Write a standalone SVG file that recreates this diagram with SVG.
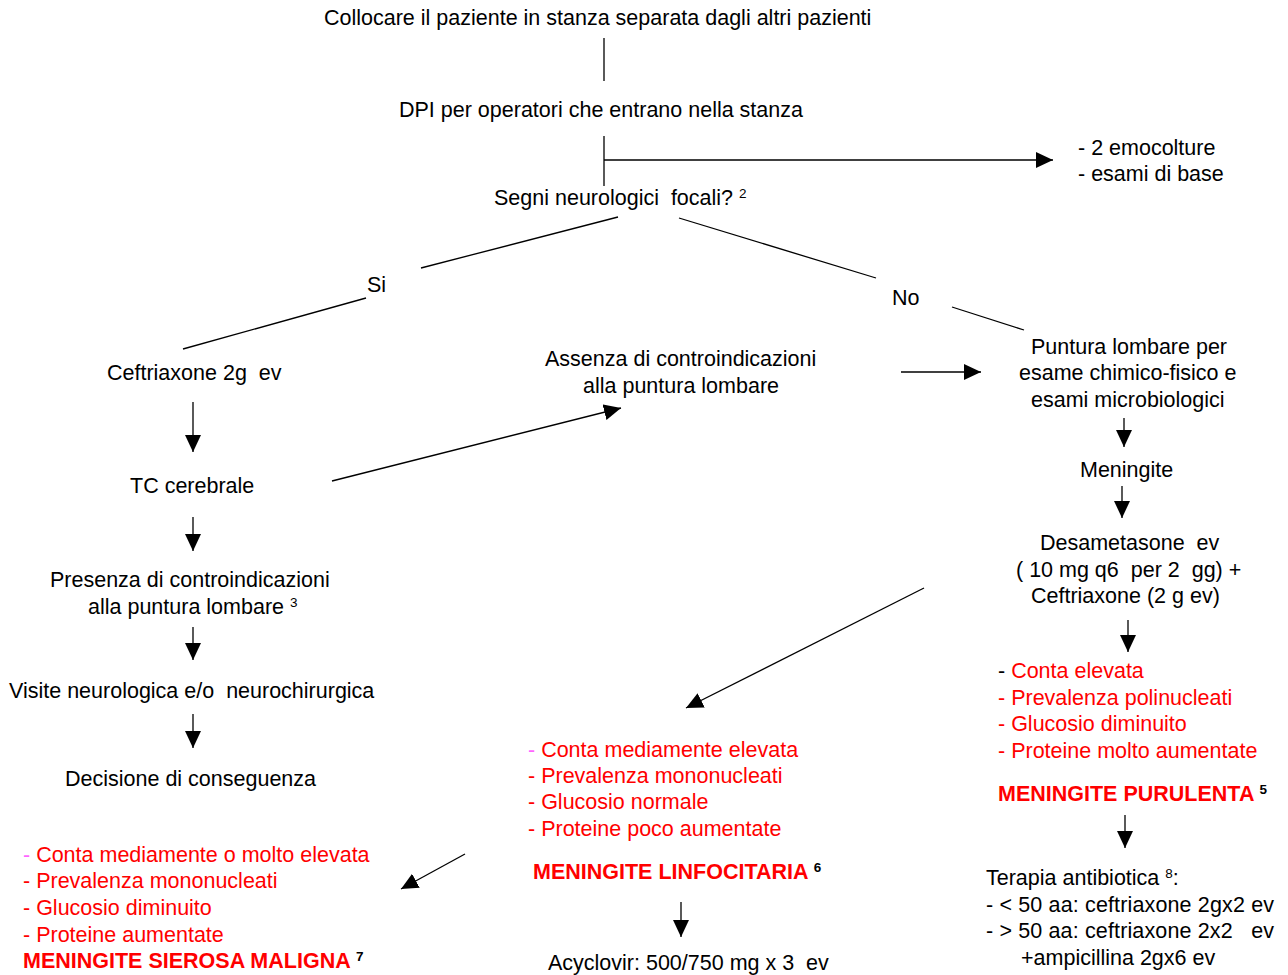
<svg xmlns="http://www.w3.org/2000/svg" width="1288" height="975" viewBox="0 0 1288 975" xml:space="preserve">
<style>
text{font-family:"Liberation Sans",Arial,sans-serif;font-size:21.5px;fill:#000;white-space:pre}
.r{fill:#ff0000}
.m{fill:#ff66ff}
.b{font-weight:bold;fill:#ff0000}
.s{font-size:13.5px;fill:#000;font-weight:normal}
.sb{font-size:13.5px;fill:#000;font-weight:bold}
.ln{stroke:#000;stroke-width:1.3;fill:none}
.ar{stroke:#000;stroke-width:1.3;fill:none;marker-end:url(#ah)}
</style>
<defs>
<marker id="ah" markerUnits="userSpaceOnUse" markerWidth="18" markerHeight="16" refX="17" refY="8" orient="auto"><path d="M0,0 L17,8 L0,16 Z" fill="#000"/></marker>
</defs>
<rect width="1288" height="975" fill="#fff"/>
<g id="connectors">
<line class="ln" x1="604" y1="38" x2="604" y2="81"/>
<line class="ln" x1="604" y1="136" x2="604" y2="186"/>
<line class="ar" x1="604" y1="160" x2="1053" y2="160"/>
<line class="ln" x1="618" y1="217" x2="421" y2="268"/>
<line class="ln" x1="366" y1="298" x2="183" y2="349"/>
<line class="ln" x1="679" y1="218" x2="876" y2="278"/>
<line class="ln" x1="952" y1="307" x2="1024" y2="330"/>
<line class="ar" x1="193" y1="402" x2="193" y2="452"/>
<line class="ar" x1="193" y1="517" x2="193" y2="551"/>
<line class="ar" x1="193" y1="627" x2="193" y2="660"/>
<line class="ar" x1="193" y1="714" x2="193" y2="748"/>
<line class="ar" x1="332" y1="481" x2="621" y2="408"/>
<line class="ar" x1="901" y1="372" x2="981" y2="372"/>
<line class="ar" x1="1124" y1="418" x2="1124" y2="447"/>
<line class="ar" x1="1122" y1="486" x2="1122" y2="518"/>
<line class="ar" x1="1128" y1="620" x2="1128" y2="652"/>
<line class="ar" x1="1125" y1="815" x2="1125" y2="848"/>
<line class="ar" x1="924" y1="588" x2="686" y2="708"/>
<line class="ar" x1="681" y1="902" x2="681" y2="937"/>
<line class="ar" x1="465" y1="854" x2="401" y2="889"/>
</g>
<g id="n_collocare"><text x="324" y="25">Collocare il paziente in stanza separata dagli altri pazienti</text></g>
<g id="n_dpi"><text x="399" y="117">DPI per operatori che entrano nella stanza</text></g>
<g id="n_emocolture"><text x="1078" y="155">- 2 emocolture</text><text x="1078" y="181">- esami di base</text></g>
<g id="n_segni"><text x="494" y="205">Segni neurologici  focali? <tspan class="s" dy="-7">2</tspan></text></g>
<g id="l_si"><text x="367" y="292">Si</text></g>
<g id="l_no"><text x="892" y="305">No</text></g>
<g id="n_ceftriaxone"><text x="107" y="380">Ceftriaxone 2g  ev</text></g>
<g id="n_tc"><text x="130" y="493">TC cerebrale</text></g>
<g id="n_presenza"><text x="50" y="587">Presenza di controindicazioni</text><text x="88" y="614">alla puntura lombare <tspan class="s" dy="-7">3</tspan></text></g>
<g id="n_visite"><text x="9" y="698">Visite neurologica e/o  neurochirurgica</text></g>
<g id="n_decisione"><text x="65" y="786">Decisione di conseguenza</text></g>
<g id="n_assenza"><text x="545" y="366">Assenza di controindicazioni</text><text x="583" y="393">alla puntura lombare</text></g>
<g id="n_puntura"><text x="1031" y="354">Puntura lombare per</text><text x="1019" y="380">esame chimico-fisico e</text><text x="1031" y="407">esami microbiologici</text></g>
<g id="n_meningite"><text x="1080" y="477">Meningite</text></g>
<g id="n_desametasone"><text x="1040" y="550">Desametasone  ev</text><text x="1016" y="577">( 10 mg q6  per 2  gg) +</text><text x="1031" y="603">Ceftriaxone (2 g ev)</text></g>
<g id="n_purulenta">
<text x="998" y="678">- <tspan class="r">Conta elevata</tspan></text>
<text x="998" y="705" class="r">- Prevalenza polinucleati</text>
<text x="998" y="731" class="r">- Glucosio diminuito</text>
<text x="998" y="758" class="r">- Proteine molto aumentate</text>
<text x="998" y="801" class="b">MENINGITE PURULENTA <tspan class="sb" dy="-7">5</tspan></text>
</g>
<g id="n_terapia">
<text x="986" y="885">Terapia antibiotica <tspan class="s" dy="-7">8</tspan><tspan dy="7">:</tspan></text>
<text x="986" y="912" textLength="288">- &lt; 50 aa: ceftriaxone 2gx2 ev</text>
<text x="986" y="938" textLength="288">- &gt; 50 aa: ceftriaxone 2x2   ev</text>
<text x="1021" y="965">+ampicillina 2gx6 ev</text>
</g>
<g id="n_linfocitaria">
<text x="528" y="757"><tspan class="m">- </tspan><tspan class="r">Conta mediamente elevata</tspan></text>
<text x="528" y="783" class="r">- Prevalenza mononucleati</text>
<text x="528" y="809" class="r">- Glucosio normale</text>
<text x="528" y="836" class="r">- Proteine poco aumentate</text>
<text x="533" y="879" class="b">MENINGITE LINFOCITARIA <tspan class="sb" dy="-7">6</tspan></text>
</g>
<g id="n_acyclovir"><text x="548" y="970">Acyclovir: 500/750 mg x 3  ev</text></g>
<g id="n_sierosa">
<text x="23" y="862"><tspan class="m">- </tspan><tspan class="r">Conta mediamente o molto elevata</tspan></text>
<text x="23" y="888" class="r">- Prevalenza mononucleati</text>
<text x="23" y="915" class="r">- Glucosio diminuito</text>
<text x="23" y="942" class="r">- Proteine aumentate</text>
<text x="23" y="968" class="b">MENINGITE SIEROSA MALIGNA <tspan class="sb" dy="-7">7</tspan></text>
</g>
</svg>
